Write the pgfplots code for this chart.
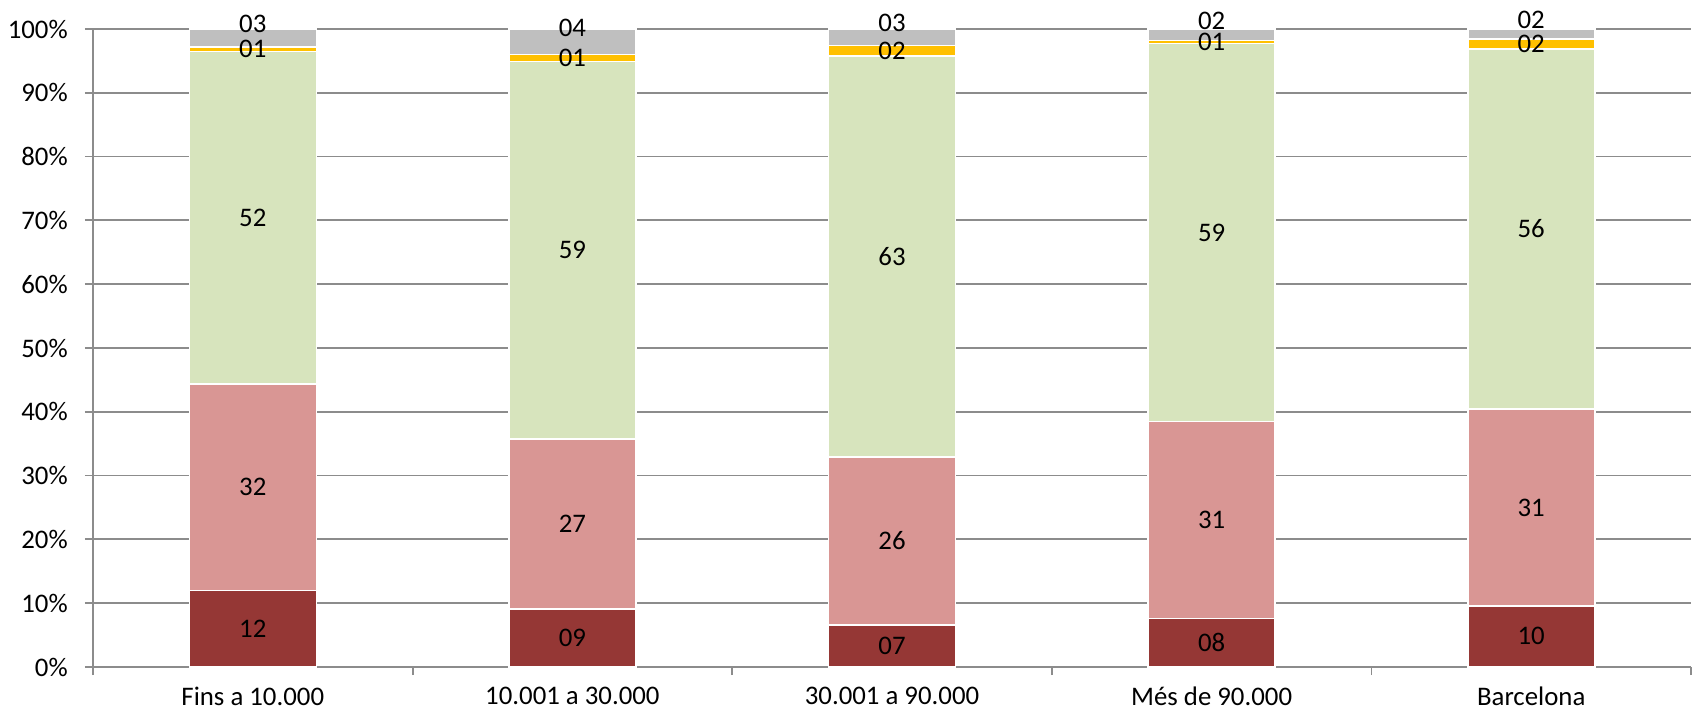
\documentclass[border=0pt]{standalone}
\usepackage{pgfplots}
\pgfplotsset{compat=1.18}
\usepackage{pgfplotstable}
\usepackage{fontspec}
\setmainfont{Carlito}
\definecolor{cDR}{HTML}{953735}
\definecolor{cPK}{HTML}{D99694}
\definecolor{cGR}{HTML}{D7E4BD}
\definecolor{cYE}{HTML}{FFC000}
\definecolor{cGY}{HTML}{BFBFBF}
\definecolor{cAX}{HTML}{8C8C8C}
\pgfplotstableread{
x v lab
0 12.0 12
1 9.1 09
2 6.6 07
3 7.6 08
4 9.6 10
}\tdr
\pgfplotstableread{
x v lab
0 32.4 32
1 26.6 27
2 26.3 26
3 30.9 31
4 30.8 31
}\tpk
\pgfplotstableread{
x v lab
0 52.1 52
1 59.2 59
2 62.9 63
3 59.2 59
4 56.5 56
}\tgr
\pgfplotstableread{
x v lab
0 0.7 01
1 1.1 01
2 1.6 02
3 0.5 01
4 1.5 02
}\tye
\pgfplotstableread{
x v lab
0 2.8 03
1 4.0 04
2 2.6 03
3 1.8 02
4 1.6 02
}\tgy
\begin{document}
\fontsize{13.4}{15}\selectfont
\begin{tikzpicture}
\useasboundingbox (0,0) rectangle (848pt,356pt);
\begin{axis}[
  at={(46.5pt,22.5pt)}, anchor=south west,
  scale only axis, width=799pt, height=319pt,
  ybar stacked, bar width=63.5pt,
  xmin=-0.5, xmax=4.5, ymin=0, ymax=100,
  xtick={0,1,2,3,4},
  xticklabels={Fins a 10.000, 10.001 a 30.000, 30.001 a 90.000, Més de 90.000, Barcelona},
  major x tick style={draw=none},
  minor xtick={-0.5,0.5,1.5,2.5,3.5,4.5},
  minor tick length=4pt, major tick length=4pt,
  tick align=outside,
  ytick={0,10,...,100},
  yticklabel={\pgfmathprintnumber{\tick}\%},
  /pgf/number format/assume math mode=true,
  ymajorgrids, grid style={color=cAX, line width=0.9pt},
  axis x line*=bottom, axis y line*=left,
  axis line style={-, draw=cAX, line width=0.9pt},
  tick style={draw=cAX, line width=0.9pt},
  tick label style={font=\fontsize{13.4}{15}\selectfont, text=black},
  yticklabel style={xshift=-4pt},
  xticklabel style={yshift=-1.5pt},
  nodes near coords,
  point meta=explicit symbolic,
  every node near coord/.append style={font=\fontsize{13.4}{15}\selectfont, text=black, anchor=center},
]
\addplot[fill=cDR, draw=white, line width=0.8pt] table[x=x,y=v,meta=lab]{\tdr};
\addplot[fill=cPK, draw=white, line width=0.8pt] table[x=x,y=v,meta=lab]{\tpk};
\addplot[fill=cGR, draw=white, line width=0.8pt] table[x=x,y=v,meta=lab]{\tgr};
\addplot[fill=cYE, draw=white, line width=0.8pt] table[x=x,y=v,meta=lab]{\tye};
\addplot[fill=cGY, draw=white, line width=0.8pt,
  every node near coord/.append style={yshift=7pt}] table[x=x,y=v,meta=lab]{\tgy};
\end{axis}
\end{tikzpicture}
\end{document}
